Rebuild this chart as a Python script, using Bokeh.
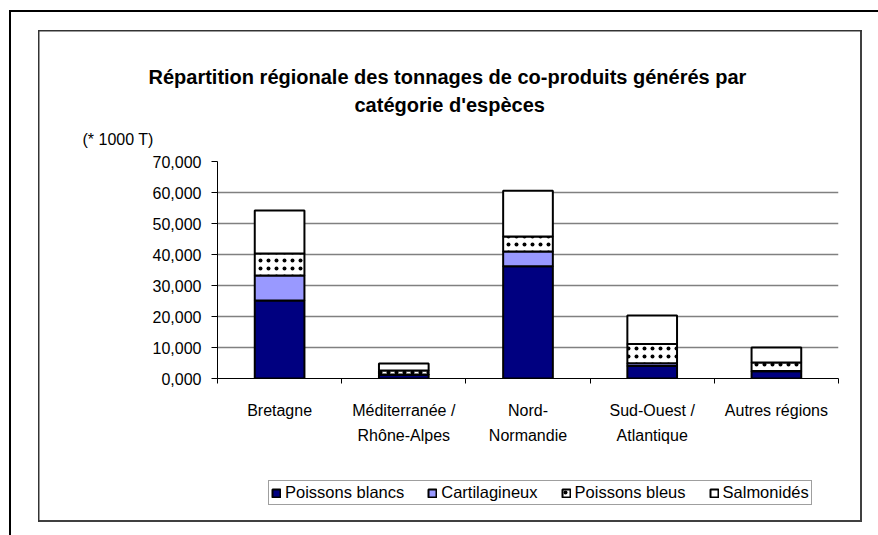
from bokeh.plotting import figure
from bokeh.layouts import column
from bokeh.models import (ColumnDataSource, FixedTicker, CustomJSTickFormatter,
                          Legend, Range1d, Title)
from bokeh.embed import file_html
from bokeh.resources import INLINE

# ---- data (thousands of tonnes) ----
categories = ["Bretagne", "Méditerranée /\nRhône-Alpes", "Nord-\nNormandie",
              "Sud-Ouest /\nAtlantique", "Autres régions"]
series = ["Poissons blancs", "Cartilagineux", "Poissons bleus", "Salmonidés"]
poissons_blancs = [25.2, 1.2, 36.2, 4.0, 2.3]
cartilagineux = [8.0, 0.1, 4.8, 0.9, 0.1]
poissons_bleus = [7.1, 1.3, 4.8, 6.2, 2.8]
salmonides = [13.9, 2.2, 14.8, 9.2, 4.8]
y_ticks = [0, 10, 20, 30, 40, 50, 60, 70]
title_lines = ["Répartition régionale des tonnages de co-produits générés par",
               "catégorie d'espèces"]
unit_label = "(* 1000 T)"

FONT = "Liberation Sans"
FILLS = ["#000080", "#9999FF", "white", "white"]
HATCH = [" ", " ", ".", " "]

x_pos = [i + 0.5 for i in range(len(categories))]
columns = {
    "Poissons blancs": poissons_blancs,
    "Cartilagineux": cartilagineux,
    "Poissons bleus": poissons_bleus,
    "Salmonidés": salmonides,
}
src = ColumnDataSource(dict(x=x_pos, **columns))

bar_style = dict(width=0.4, fill_color=FILLS, line_color="black", line_width=2,
                 hatch_pattern=HATCH, hatch_color="black", hatch_scale=8, hatch_weight=1)

# ---------------- main chart ----------------
p = figure(width=878, height=478, output_backend="svg", toolbar_location=None,
           title=title_lines[0],
           x_range=Range1d(0, len(categories)), y_range=Range1d(0, 70),
           min_border_left=217, min_border_right=40, min_border_top=161,
           min_border_bottom=100, frame_width=621, frame_height=217)
p.outline_line_color = None
p.background_fill_color = "white"
p.border_fill_alpha = 0

p.vbar_stack(series, x="x", source=src, **bar_style)

xa = p.xaxis[0]
xa.ticker = FixedTicker(ticks=x_pos, minor_ticks=list(range(len(categories) + 1)))
xa.major_label_overrides = {x: c for x, c in zip(x_pos, categories)}
xa.major_tick_out = 0
xa.major_tick_in = 0
xa.minor_tick_out = 5
xa.minor_tick_in = 0
xa.minor_tick_line_color = "black"
xa.axis_line_color = "black"
xa.major_label_text_font = FONT
xa.major_label_text_font_size = "16px"
xa.major_label_text_color = "black"
xa.major_label_text_line_height = 1.5
xa.major_label_standoff = 18

ya = p.yaxis[0]
ya.ticker = FixedTicker(ticks=y_ticks)
ya.formatter = CustomJSTickFormatter(code="return tick.toFixed(3).replace('.', ',');")
ya.major_tick_out = 6
ya.major_tick_in = 0
ya.minor_tick_line_color = None
ya.axis_line_color = "black"
ya.major_label_text_font = FONT
ya.major_label_text_font_size = "16px"
ya.major_label_text_color = "black"
ya.major_label_standoff = 10

p.xgrid.grid_line_color = None
p.ygrid.grid_line_color = "#808080"
p.ygrid.grid_line_width = 1.5

# stacked above the frame: unit label (closest), title line 2, title line 1 (p.title)
p.add_layout(Title(text=unit_label, align="left", offset=-135, standoff=27,
                   text_font=FONT, text_font_size="16px", text_font_style="normal",
                   text_color="black"), "above")
p.add_layout(Title(text=title_lines[1], align="left", offset=137, standoff=0,
                   text_font=FONT, text_font_size="20px", text_font_style="bold",
                   text_color="black"), "above")
p.title.align = "left"
p.title.offset = -69
p.title.standoff = 8
p.title.text_font = FONT
p.title.text_font_size = "20px"
p.title.text_font_style = "bold"
p.title.text_color = "black"

# ---------------- legend strip (frame aligned with the main frame) ----------------
# swatch-only renderers: one NaN row, so nothing is drawn but the legend gets its styles
q = figure(width=878, height=57, output_backend="svg", toolbar_location=None,
           x_range=Range1d(0, len(categories)), y_range=Range1d(0, 1),
           x_axis_type=None, y_axis_type=None,
           min_border_left=217, min_border_right=40, min_border_top=0, min_border_bottom=0)
q.outline_line_color = None
q.background_fill_alpha = 0
q.border_fill_alpha = 0
q.grid.grid_line_color = None
swatch_src = ColumnDataSource(dict(x=[float("nan")], **{k: [float("nan")] for k in columns}))
legend_renderers = q.vbar_stack(series, x="x", source=swatch_src, **bar_style)

legend = Legend(items=[(s, [r]) for s, r in zip(series, legend_renderers)],
                orientation="horizontal", location=(51, 30),
                glyph_width=10, glyph_height=10, label_standoff=4, spacing=23,
                padding=2, margin=0, border_line_color="#404040", border_line_width=1.5,
                label_text_font=FONT, label_text_font_size="16.5px",
                label_text_color="black", background_fill_color="white",
                background_fill_alpha=1)
q.add_layout(legend)

# chart-area and sheet borders drawn as CSS background lines behind transparent canvases
border_layers = [
    ("#000000", "9px 10px", "869px 2px"),     # outer top
    ("#000000", "9px 10px", "2px 525px"),     # outer left
    ("#333333", "38px 30px", "824px 1.5px"),  # inner top
    ("#333333", "38px 30px", "1.5px 492px"),  # inner left
    ("#404040", "860px 30px", "2px 492px"),   # inner right
    ("#404040", "38px 520px", "824px 2px"),   # inner bottom
]
page = column(p, q, spacing=0, styles={
    "background-color": "white",
    "background-image": ", ".join(f"linear-gradient({c}, {c})" for c, _, _ in border_layers),
    "background-position": ", ".join(pos for _, pos, _ in border_layers),
    "background-size": ", ".join(sz for _, _, sz in border_layers),
    "background-repeat": "no-repeat",
})

open("out.html", "w").write(file_html(page, INLINE))
